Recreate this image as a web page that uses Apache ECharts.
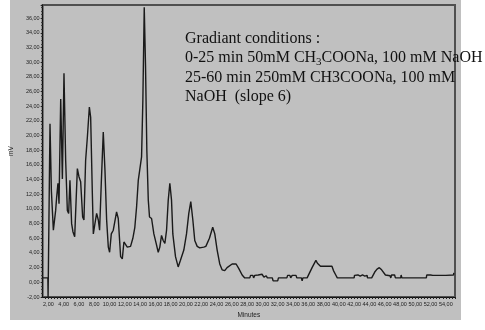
<!DOCTYPE html>
<html>
<head>
<meta charset="utf-8">
<script src="https://cdn.jsdelivr.net/npm/echarts@6/dist/echarts.min.js"></script>
<style>
  html, body { margin: 0; padding: 0; background: #fff; }
  #chart { width: 485px; height: 330px; }
</style>
</head>
<body>
<div id="chart"></div>
<script>
// retention time (min)
const times = [
  1.25, 1.93, 1.96, 2.15, 2.21, 2.39, 2.65, 2.95, 3.08, 3.25, 3.39, 3.61, 3.83, 4.04, 4.26, 4.48, 4.65, 4.82,
  5.04, 5.21, 5.44, 5.79, 6.00, 6.22, 6.48, 6.65, 6.87, 7.10, 7.36, 7.53, 7.75, 7.88, 8.09, 8.31, 8.53, 8.70,
  8.92, 9.18, 9.40, 9.62, 9.84, 10.01, 10.23, 10.49, 10.65, 10.92, 11.14, 11.45, 11.67, 11.88, 12.10, 12.32,
  12.55, 12.75, 13.05, 13.31, 13.54, 13.76, 14.02, 14.19, 14.36, 14.54, 14.71, 14.88, 15.07, 15.23, 15.50,
  15.80, 16.10, 16.37, 16.58, 16.80, 17.02, 17.24, 17.46, 17.68, 17.89, 18.11, 18.28, 18.63, 18.98, 19.28,
  19.72, 20.07, 20.37, 20.63, 20.90, 21.15, 21.47, 21.80, 22.33, 22.60, 23.07, 23.50, 23.77, 24.08, 24.42,
  24.73, 25.07, 25.38, 25.60, 26.04, 26.56, 26.90, 27.35, 27.69, 28.35, 28.45, 28.75, 28.85, 29.00, 29.20,
  29.45, 29.70, 29.95, 30.20, 30.50, 30.65, 31.30, 31.40, 32.00, 32.10, 33.20, 33.30, 33.60, 33.70, 33.90,
  34.40, 34.50, 35.10, 35.20, 35.30, 35.85, 36.50, 37.00, 37.20, 37.60, 39.10, 39.30, 39.60, 39.80, 42.00,
  42.05, 42.30, 42.50, 42.80, 43.10, 43.40, 43.70, 43.75, 44.30, 44.70, 45.00, 45.30, 45.60, 45.80, 46.10,
  46.30, 46.70, 46.80, 46.90, 47.30, 47.40, 48.10, 48.15, 48.25, 51.45, 51.50, 52.00, 52.10, 52.30, 53.00,
  53.10, 53.20, 54.00, 54.10, 54.20, 55.00, 55.05
];
// detector signal (mV)
const mV = [
  0.6, 0.6, -2.0, -2.0, 21.6, 12.5, 7.1, 9.8, 11.6, 13.5, 10.7, 25.0, 14.1, 28.5, 16.6, 9.8, 9.4, 13.9,
  8.0, 6.9, 6.2, 15.5, 14.4, 13.7, 8.9, 8.5, 16.6, 19.8, 23.9, 22.5, 12.1, 6.6, 8.0, 9.4, 8.5, 7.1,
  13.5, 20.5, 15.3, 8.5, 4.8, 4.1, 6.6, 7.1, 7.1, 9.6, 8.7, 3.5, 3.2, 5.5, 5.7, 4.8,
  4.8, 4.9, 6.0, 7.5, 10.3, 13.9, 14.1, 17.1, 24.8, 37.5, 29.4, 18.0, 11.2, 8.9, 8.7,
  6.6, 5.3, 4.1, 4.8, 6.4, 5.7, 5.3, 7.1, 11.2, 13.5, 11.2, 6.6, 3.5, 2.1, 3.0,
  4.4, 6.6, 9.4, 11.0, 8.5, 5.7, 4.9, 4.7, 4.8, 4.9, 6.0, 7.5, 6.6, 4.4, 2.5,
  1.7, 1.6, 2.0, 2.0, 2.5, 2.5, 1.9, 1.0, 0.6, 0.6, 0.95, 0.95, 0.6, 0.95, 0.8,
  1.0, 0.9, 1.1, 0.7, 0.9, 0.6, 0.6, 0.2, 0.2, 0.6, 0.6, 0.95, 0.95, 0.6, 0.95,
  0.95, 0.6, 0.6, 0.2, 0.6, 0.6, 2.0, 3.0, 2.6, 2.2, 2.2, 1.6, 1.0, 0.6, 0.6,
  0.95, 0.8, 1.0, 0.85, 1.0, 0.85, 0.95, 0.6, 0.6, 1.4, 1.8, 2.0, 1.7, 1.6, 1.0,
  0.9, 0.9, 0.6, 1.0, 1.0, 0.6, 0.6, 1.0, 0.6, 0.6, 1.0, 1.0, 1.2, 0.95, 0.95,
  1.1, 0.95, 0.95, 1.15, 0.95, 1.0, 1.3
];
// x tick labels (min)
const xLabels = [2, 4, 6, 8, 10, 12, 14, 16, 18, 20, 22, 24, 26, 28, 30, 32, 34, 36, 38, 40, 42, 44, 46, 48, 50, 52, 54];

const xTicks = [];
for (let t = 1.6; t < 55.2; t += 0.4) xTicks.push(Math.round(t * 10) / 10);

const fmt = v => v.toFixed(2).replace('.', ',');

const chart = echarts.init(document.getElementById('chart'), null, { renderer: 'canvas' });

chart.setOption({
  animation: false,
  backgroundColor: '#fff',
  graphic: [
    {
      type: 'rect', z: -10, silent: true,
      shape: { x: 10, y: 0, width: 451, height: 320 },
      style: { fill: '#c0c0c0' }
    },
    {
      type: 'text', z: 100, left: 185, top: 28.5,
      style: {
        text: 'Gradiant conditions :\n0-25 min 50mM CH{sub|3}COONa, 100 mM NaOH\n25-60 min 250mM CH3COONa, 100 mM\nNaOH  (slope 6)',
        fontFamily: '"Liberation Serif", "DejaVu Serif", serif',
        fontSize: 16,
        lineHeight: 19.6,
        fill: '#111',
        rich: {
          sub: { fontSize: 11, fontFamily: '"Liberation Serif", serif', verticalAlign: 'bottom', lineHeight: 13, fill: '#111' }
        }
      }
    }
  ],
  grid: {
    left: 42, right: 30, top: 5, bottom: 33,
    show: true, borderColor: '#505050', borderWidth: 2, backgroundColor: 'transparent'
  },
  xAxis: {
    type: 'value',
    min: 1.25, max: 55.2,
    name: 'Minutes', nameLocation: 'middle', nameGap: 15,
    nameTextStyle: { fontSize: 6.5, fontFamily: '"Liberation Sans", Arial, sans-serif', color: '#222' },
    axisLine: { onZero: false, lineStyle: { color: '#111', width: 1 } },
    axisTick: { show: true, length: 2, customValues: xTicks, lineStyle: { color: '#222' } },
    axisLabel: {
      customValues: xLabels, margin: 4, fontSize: 5.5, color: '#222',
      fontFamily: '"Liberation Sans", Arial, sans-serif', formatter: fmt
    },
    splitLine: { show: false }
  },
  yAxis: {
    type: 'value',
    min: -2, max: 37.8, interval: 2,
    name: 'mV', nameLocation: 'middle', nameGap: 16, nameRotate: 90,
    nameTextStyle: { fontSize: 6.5, fontFamily: '"Liberation Sans", Arial, sans-serif', color: '#222' },
    axisLine: { show: true, lineStyle: { color: '#111', width: 1 } },
    axisTick: { show: true, length: 2, lineStyle: { color: '#222' } },
    minorTick: { show: true, splitNumber: 4, length: 1.5, lineStyle: { color: '#333' } },
    axisLabel: {
      showMaxLabel: false, margin: 3, fontSize: 5.5, color: '#222',
      fontFamily: '"Liberation Sans", Arial, sans-serif', formatter: fmt
    },
    splitLine: { show: false }
  },
  series: [
    {
      type: 'line',
      data: times.map((t, i) => [t, mV[i]]),
      showSymbol: false,
      lineStyle: { color: '#1a1a1a', width: 1.4 },
      clip: true
    }
  ]
});
</script>
</body>
</html>
